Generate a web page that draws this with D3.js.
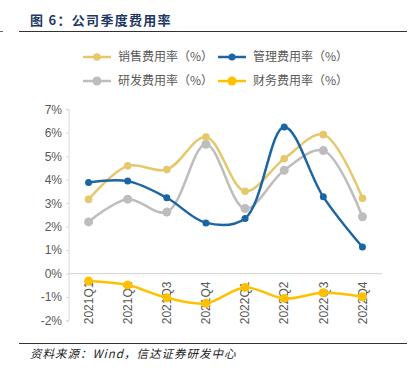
<!DOCTYPE html>
<html><head><meta charset="utf-8">
<script src="https://cdn.jsdelivr.net/npm/d3@7"></script>
<style>body{margin:0;background:#fff;}svg{display:block;font-family:"Liberation Sans",Arial,"Noto Sans CJK SC",sans-serif;}</style>
</head><body>
<svg id="c" width="409" height="376"></svg>
<script>
const categories = ["2021Q1","2021Q2","2021Q3","2021Q4","2022Q1","2022Q2","2022Q3","2022Q4"];
const sales = [3.16, 4.59, 4.43, 5.82, 3.51, 4.89, 5.92, 3.21];
const admin = [3.88, 3.94, 3.23, 2.16, 2.35, 6.25, 3.27, 1.13];
const rnd = [2.20, 3.17, 2.62, 5.51, 2.77, 4.40, 5.24, 2.42];
const finance = [-0.32, -0.49, -1.03, -1.27, -0.59, -1.06, -0.82, -0.99];
const yTicks = [-2,-1,0,1,2,3,4,5,6,7];
const seriesNames = ["销售费用率（%）","管理费用率（%）","研发费用率（%）","财务费用率（%）"];
const colors = ["#E6C76B","#1C65A2","#BDBDBD","#FFC000"];

const svg = d3.select("#c");
const cjk = '"Noto Sans CJK SC",sans-serif';

// title
svg.append("text").attr("x",30).attr("y",25).attr("font-family",cjk).attr("font-weight","bold")
  .attr("font-size",13).attr("letter-spacing",1.3).attr("fill","#1F3864").text("图 6：公司季度费用率");
svg.append("line").attr("x1",19).attr("x2",407).attr("y1",31.5).attr("y2",31.5).attr("stroke","#333").attr("stroke-width",1);
svg.append("line").attr("x1",0).attr("x2",3).attr("y1",31.5).attr("y2",31.5).attr("stroke","#666").attr("stroke-width",1);

// footer
svg.append("line").attr("x1",19).attr("x2",407).attr("y1",343.5).attr("y2",343.5).attr("stroke","#333").attr("stroke-width",1);
svg.append("text").attr("x",30).attr("y",358).attr("font-family",cjk).attr("font-style","italic")
  .attr("font-size",11.5).attr("letter-spacing",1).attr("fill","#222").text("资料来源：Wind，信达证券研发中心");

const x = d3.scaleBand().domain(categories).range([69,382]);
const y = d3.scaleLinear().domain([-2,7]).range([320.5,109.3]);

// y axis
const yAxis = d3.axisLeft(y).tickValues(yTicks).tickSize(3).tickFormat(d=>d+"%");
const ga = svg.append("g").attr("transform","translate(69,0)").call(yAxis);
ga.select(".domain").attr("stroke","#D9D9D9").attr("d","M-3,"+y(7)+"H0V"+y(-2)+"H-3");
ga.selectAll(".tick line").attr("stroke","#D9D9D9");
ga.selectAll(".tick text").attr("fill","#595959").attr("font-size",12).attr("x",-7);

// zero line
svg.append("line").attr("x1",69).attr("x2",382).attr("y1",y(0)).attr("y2",y(0)).attr("stroke","#D9D9D9").attr("stroke-width",1.2);

// x labels
const xAxis = d3.axisBottom(x).tickSize(0);
const gx = svg.append("g").attr("transform","translate(0,"+y(0)+")").call(xAxis);
gx.select(".domain").remove();
gx.selectAll(".tick text").attr("fill","#595959").attr("font-size",12)
  .attr("transform","rotate(-90)").attr("text-anchor","end").attr("x",-8).attr("y",0).attr("dy","0.35em");

const data = [sales, admin, rnd, finance];
const radii = [3.8, 3.5, 4.5, 4.5];
const line = d3.line().x((d,i)=>x(categories[i])+x.bandwidth()/2).y(d=>y(d)).curve(d3.curveCatmullRom.alpha(0.5));
const order = [3,2,0,1];
order.forEach(k=>{
  svg.append("path").datum(data[k]).attr("d",line).attr("fill","none").attr("stroke",colors[k]).attr("stroke-width",2.5);
  svg.selectAll(null).data(data[k]).enter().append("circle")
    .attr("cx",(d,i)=>x(categories[i])+x.bandwidth()/2).attr("cy",d=>y(d)).attr("r",radii[k]).attr("fill",colors[k]);
});

// legend
const legPos = [[83,57],[218,57],[83,81],[218,81]];
seriesNames.forEach((n,k)=>{
  const [lx,ly] = legPos[k];
  const g = svg.append("g");
  g.append("line").attr("x1",lx).attr("x2",lx+28).attr("y1",ly).attr("y2",ly).attr("stroke",colors[k]).attr("stroke-width",2.5);
  g.append("circle").attr("cx",lx+14).attr("cy",ly).attr("r",radii[k]).attr("fill",colors[k]);
  g.append("text").attr("x",lx+35).attr("y",ly).attr("dy","0.36em").attr("font-family",cjk)
    .attr("font-size",12).attr("fill","#595959").text(n);
});
</script>
</body></html>
